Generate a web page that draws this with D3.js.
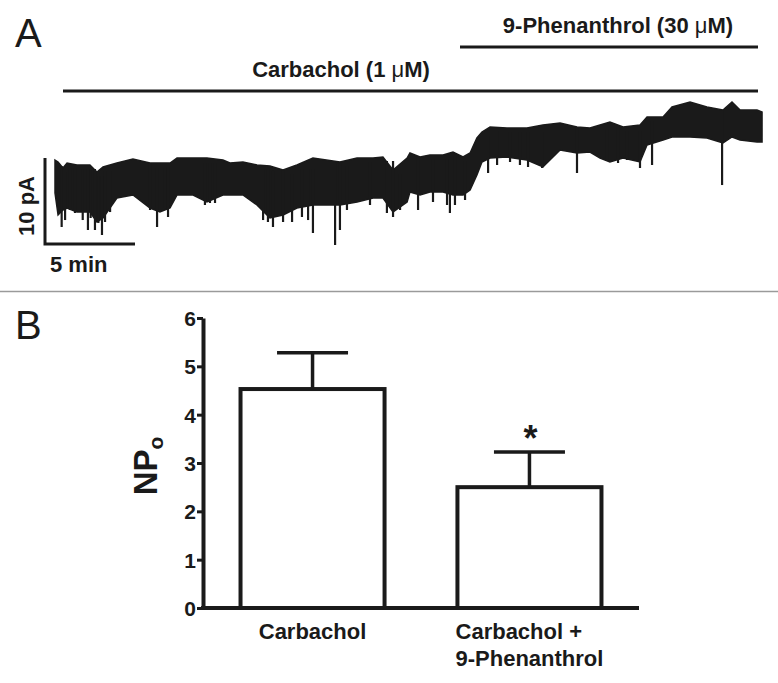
<!DOCTYPE html>
<html>
<head>
<meta charset="utf-8">
<script src="https://cdn.jsdelivr.net/npm/d3@7"></script>
<style>
  html, body { margin: 0; padding: 0; background: #ffffff; }
  svg { display: block; }
  text { font-family: "Liberation Sans", Arial, Helvetica, sans-serif; fill: #1a1a1a; }
</style>
</head>
<body>
<svg id="chart" width="778" height="683"></svg>
<script>
// ---------------- Panel A data (current trace) ----------------
// time in minutes, current in pA (relative)
const traceTime = [0,0.17,0.44,0.67,1.22,1.94,2.33,2.67,3.44,4.33,5.28,5.83,6.39,6.78,7.67,8.44,9.33,9.72,10.44,11.22,11.94,12.67,13.44,14.33,15.83,16.78,17.67,18.22,18.78,19.56,19.72,20.28,20.83,21.56,22.11,22.67,23.06,23.44,23.72,24.17,25.11,26.22,27.11,28.06,29.0,29.72,30.28,30.83,31.56,32.5,32.89,33.78,34.28,35.28,36.22,37.11,37.61,38.06,39.0,39.28];
const traceTop = [4.65,4.42,3.72,4.30,4.07,4.07,3.26,3.84,4.30,4.77,4.30,4.30,4.30,4.88,4.88,4.88,4.65,4.30,4.42,4.07,3.95,3.49,4.07,4.88,4.42,4.88,4.88,5.00,3.49,4.88,5.47,5.00,5.23,5.23,5.58,5.00,5.47,7.21,7.91,8.49,8.37,8.37,8.72,8.95,8.49,8.37,8.72,9.07,8.49,8.72,9.65,9.65,10.81,11.40,10.81,10.47,11.40,10.47,10.47,10.23];
const traceBottom = [0.81,-1.74,-1.16,-0.93,-1.40,-1.40,-2.56,-2.09,0.23,0.58,-0.93,-1.40,-0.93,0.58,0.58,-0.23,0.58,0.58,0.58,-0.58,-2.09,-1.74,-0.93,-0.58,-0.58,-0.23,0.23,0.23,-1.40,-0.23,0.93,0.58,0.93,0.93,0.58,0.58,1.16,2.91,4.42,4.88,5.00,4.65,3.84,5.81,5.47,5.58,4.88,4.42,4.88,4.42,6.40,6.98,7.33,7.33,7.21,6.63,7.33,6.98,6.74,6.74];
// downward openings (time in min, peak in pA)
const spikeTime = [0.37,0.56,0.83,1.11,1.54,1.83,1.98,2.22,2.41,2.61,2.78,3.06,5.28,5.67,6.11,6.28,8.33,8.61,8.89,11.56,11.83,12.11,12.67,13.17,13.72,14.06,14.33,15.56,15.83,16.22,17.5,18.44,18.78,19.17,20.17,21.0,21.78,21.94,22.22,22.78,24.06,24.56,25.28,25.83,26.28,27.06,29.0,30.67,31.28,31.78,32.5,33.17,37.06];
const spikeDepth = [-3.14,-2.33,-1.16,-1.51,-2.33,-3.49,-2.09,-3.49,-2.67,-4.07,-2.56,-1.40,-1.16,-3.14,-0.93,-1.98,-0.58,-0.35,-0.35,-2.33,-2.56,-3.14,-2.56,-2.56,-1.98,-2.33,-3.84,-5.23,-3.49,-1.16,-0.58,-1.51,-1.98,-1.16,-1.16,-0.23,-0.58,-1.51,-0.58,0,3.14,4.07,4.42,4.07,3.84,3.72,3.14,4.65,4.30,4.65,3.72,4.07,1.74];
const carbacholLabel = "Carbachol (1 ";
const phenLabel = "9-Phenanthrol (30 ";
const scaleBarPA = 10;
const scaleBarMin = 5;

// ---------------- Panel B data ----------------
const categories = ["Carbachol", "Carbachol + 9-Phenanthrol"];
const categoryLines = [["Carbachol"], ["Carbachol +", "9-Phenanthrol"]];
const npoMean = [4.53, 2.50];
const npoSem = [0.75, 0.73];
const yTicks = [0, 1, 2, 3, 4, 5, 6];
const significance = ["", "*"];

const ink = "#1a1a1a";
const svg = d3.select("#chart");

// ---------------- Panel A ----------------
const xT = d3.scaleLinear().domain([0, 5]).range([55, 145]);   // 5 min = 90 px
const yT = d3.scaleLinear().domain([0, 10]).range([200, 114]);  // 10 pA = 86 px

svg.append("text").attr("x", 15).attr("y", 47)
  .style("font-size", "40px").text("A");

// drug application bars
svg.append("line").attr("x1", 63).attr("x2", 758).attr("y1", 91).attr("y2", 91)
  .attr("stroke", ink).attr("stroke-width", 3);
svg.append("line").attr("x1", 460).attr("x2", 758).attr("y1", 47).attr("y2", 47)
  .attr("stroke", ink).attr("stroke-width", 3);

function drugLabel(x, y, pre) {
  const t = svg.append("text").attr("x", x).attr("y", y).attr("text-anchor", "middle")
    .style("font-size", "22px").style("font-weight", "bold");
  t.append("tspan").text(pre);
  t.append("tspan").style("font-weight", "normal").text("\u03bc");
  t.append("tspan").text("M)");
}
drugLabel(341, 77, carbacholLabel);
drugLabel(618, 33, phenLabel);

// trace body
const idx = d3.range(traceTime.length);
const area = d3.area()
  .x(i => xT(traceTime[i]))
  .y0(i => yT(traceBottom[i]))
  .y1(i => yT(traceTop[i]))
  .curve(d3.curveLinear);
svg.append("path").attr("d", area(idx)).attr("fill", ink).attr("stroke", ink)
  .attr("stroke-width", 1.5).attr("stroke-linejoin", "miter");

// spikes
const bis = d3.bisector(d => d).left;
svg.append("g").selectAll("line").data(d3.range(spikeTime.length)).join("line")
  .attr("x1", i => xT(spikeTime[i])).attr("x2", i => xT(spikeTime[i]))
  .attr("y1", i => yT(spikeDepth[i]))
  .attr("y2", i => {
    const k = Math.max(0, Math.min(traceTime.length - 1, bis(traceTime, spikeTime[i]) - 1));
    return yT(traceTop[k]) + 4;
  })
  .attr("stroke", ink).attr("stroke-width", 2.2);

// scale bars
const sbX = 45, sbY = 244;
const sbH = yT(0) - yT(scaleBarPA);
const sbW = xT(scaleBarMin) - xT(0);
svg.append("path")
  .attr("d", `M${sbX},${sbY - sbH}V${sbY}H${sbX + sbW}`)
  .attr("fill", "none").attr("stroke", ink).attr("stroke-width", 3);
svg.append("text").attr("transform", `translate(34,${sbY - sbH / 2 + 5}) rotate(-90)`)
  .attr("text-anchor", "middle").style("font-size", "22px").style("font-weight", "bold")
  .text(scaleBarPA + " pA");
svg.append("text").attr("x", sbX + 5).attr("y", 272)
  .style("font-size", "22px").style("font-weight", "bold")
  .text(scaleBarMin + " min");

// separator
svg.append("line").attr("x1", 0).attr("x2", 778).attr("y1", 291.5).attr("y2", 291.5)
  .attr("stroke", "#9a9a9a").attr("stroke-width", 1.5);

// ---------------- Panel B ----------------
svg.append("text").attr("x", 15).attr("y", 339)
  .style("font-size", "40px").text("B");

const yB = d3.scaleLinear().domain([0, 6]).range([608, 318]);
const xB = d3.scaleBand().domain(categories).range([203, 639])
  .paddingInner(0.336).paddingOuter(0.173);

// bars
svg.append("g").selectAll("rect").data(categories).join("rect")
  .attr("x", d => xB(d)).attr("width", xB.bandwidth())
  .attr("y", (d, i) => yB(npoMean[i])).attr("height", (d, i) => yB(0) - yB(npoMean[i]))
  .attr("fill", "#ffffff").attr("stroke", ink).attr("stroke-width", 4);

// error bars
const capW = 71;
const eg = svg.append("g");
categories.forEach((c, i) => {
  const cx = xB(c) + xB.bandwidth() / 2;
  eg.append("line").attr("x1", cx).attr("x2", cx)
    .attr("y1", yB(npoMean[i])).attr("y2", yB(npoMean[i] + npoSem[i]))
    .attr("stroke", ink).attr("stroke-width", 3.5);
  eg.append("line").attr("x1", cx - capW / 2).attr("x2", cx + capW / 2)
    .attr("y1", yB(npoMean[i] + npoSem[i])).attr("y2", yB(npoMean[i] + npoSem[i]))
    .attr("stroke", ink).attr("stroke-width", 3.5);
  if (significance[i]) {
    svg.append("text").attr("x", cx + 1).attr("y", yB(npoMean[i] + npoSem[i]) - 1)
      .attr("text-anchor", "middle").style("font-size", "36px").style("font-weight", "bold")
      .text(significance[i]);
  }
});

// y axis
const yAxis = svg.append("g").attr("transform", "translate(203,0)")
  .call(d3.axisLeft(yB).tickValues(yTicks).tickFormat(d3.format("d"))
    .tickSize(6).tickSizeOuter(0).tickPadding(1));
yAxis.select(".domain").attr("stroke", ink).attr("stroke-width", 4);
yAxis.selectAll(".tick line").attr("stroke", ink).attr("stroke-width", 3);
yAxis.selectAll(".tick text").style("font-size", "21px").style("font-weight", "bold")
  .style("font-family", "'Liberation Sans', Arial, sans-serif").attr("fill", ink).attr("dy", "0.36em");

// x axis baseline
svg.append("line").attr("x1", 201).attr("x2", 639).attr("y1", yB(0)).attr("y2", yB(0))
  .attr("stroke", ink).attr("stroke-width", 4);

// category labels (left-aligned block centred under bar)
categories.forEach((c, i) => {
  const cx = xB(c) + xB.bandwidth() / 2;
  const g = svg.append("g");
  const texts = categoryLines[i].map((ln, j) =>
    g.append("text").attr("x", 0).attr("y", 639 + j * 27)
      .style("font-size", "22px").style("font-weight", "bold").text(ln));
  const w = d3.max(texts, t => t.node().getComputedTextLength());
  g.attr("transform", `translate(${cx - w / 2},0)`);
});

// y axis title
const yt = svg.append("text").attr("transform", "translate(157,466) rotate(-90)")
  .attr("text-anchor", "middle").style("font-weight", "bold");
yt.append("tspan").style("font-size", "33px").text("NP");
yt.append("tspan").style("font-size", "21px").attr("dy", "6").text("o");
</script>
</body>
</html>
